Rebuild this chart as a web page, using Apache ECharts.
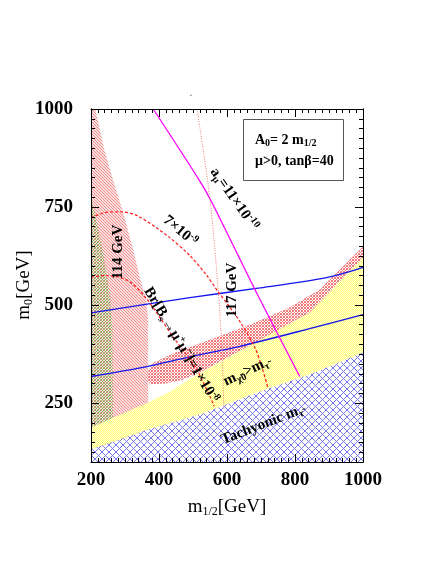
<!DOCTYPE html>
<html><head><meta charset="utf-8">
<script src="https://cdn.jsdelivr.net/npm/echarts@6/dist/echarts.min.js"></script>
<style>html,body{margin:0;padding:0;background:#fff}#c{width:436px;height:564px}</style>
</head><body><div id="c"></div><script>
// ---- data (m1/2 [GeV], m0 [GeV]) ----
const xTicks = [200, 400, 600, 800, 1000];
const yTickLabels = [250, 500, 750, 1000];
const higgs114Region = [[200,1000],[213,1000],[239,896],[265,819],[295,735],[324,641],[345,565],[362,514],[368,463],[368,183],[200,132]];
const bsgRegion = [[200,780],[215,720],[236,630],[255,530],[263,440],[265,150],[200,132]];
const stauLspTop = [[200,188],[368,252],[433,280],[491,312],[667,397],[843,481],[931,560],[1000,621]];
const tachyonTop = [[200,132],[368,183],[521,221],[697,280],[843,323],[1000,379]];
const relicUpper = [[368,330],[380,352],[448,379],[550,412],[667,450],[784,494],[873,540],[946,603],[1000,649]];
const relicLower = [[1000,621],[931,560],[843,481],[667,397],[520,328],[470,310],[420,300],[375,298],[368,305]];
const gm2Upper = [[200,480],[491,519],[697,544],[893,570],[1000,596]];
const gm2Lower = [[200,318],[345,340],[491,368],[638,395],[843,440],[1000,476]];
const amu11 = [[383,1000],[521,815],[556,761],[682,540],[814,318]];
const higgs117 = [[512,1000],[550,769],[574,540],[585,387],[591,234]];
const bs7e9 = [[200,723],[242,736],[286,738],[336,728],[424,677],[491,626],[541,575],[574,534],[603,501],[638,458],[682,392],[703,341],[720,290]];
const bs1e8 = [[200,572],[242,575],[280,572],[315,559],[359,521],[403,468],[447,412],[506,343],[550,267],[562,242]];

// ---- hatch patterns ----
function pattern(size, fn) {
  const c = document.createElement('canvas'); c.width = size; c.height = size;
  const ctx = c.getContext('2d'); const img = ctx.createImageData(size, size);
  for (let y = 0; y < size; y++) for (let x = 0; x < size; x++) {
    const col = fn(x, y); if (!col) continue;
    const i = (y * size + x) * 4; img.data[i]=col[0]; img.data[i+1]=col[1]; img.data[i+2]=col[2]; img.data[i+3]=col[3];
  }
  ctx.putImageData(img, 0, 0); return {image: c, repeat: 'repeat'};
}
const pinkHatch = pattern(3, (x,y) => ((x - y + 30) % 3 === 0) ? [240,140,140,255] : [250,225,225,255]);
const redHatch = pattern(3, (x,y) => ((x - y + 30) % 3 === 0 || (x + y) % 3 === 0) ? [240,120,120,255] : null);
const greenHatch = pattern(3, (x,y) => ((x + y) % 3 === 0) ? [120,185,80,255] : null);
const yellowDots = pattern(2, (x,y) => ((x + y) % 2 === 0) ? [255,255,120,255] : [255,255,215,255]);
const blueHatch = pattern(7, (x,y) => ((x - y + 70) % 7 === 0 || (x + y) % 7 === 0) ? [120,120,238,255] : null);

function poly(name, pts, fill, z) {
  return { type: 'custom', name, silent: true, z, clip: true, data: [[pts[0][0], pts[0][1]]],
    renderItem: (params, api) => ({ type: 'polygon', shape: { points: pts.map(p => api.coord(p)) }, style: { fill: fill, stroke: null } }) };
}
function line(name, pts, color, width, type, smooth) {
  return { type: 'line', name, data: pts, showSymbol: false, smooth: smooth, silent: true, z: 5,
    lineStyle: { color, width, type }, clip: true };
}

const serif = 'Liberation Serif';
const axisCommon = {
  axisLine: { show: true, lineStyle: { color: '#000', width: 1 } },
  splitLine: { show: false }, z: 10
};
const chart = echarts.init(document.getElementById('c'), null, { renderer: 'canvas' });
const ann = {
  b: { fontFamily: serif, fontWeight: 'bold', fontSize: 15, lineHeight: 18, color: '#000' },
  sub: { fontFamily: serif, fontWeight: 'bold', fontSize: 10, lineHeight: 6, verticalAlign: 'bottom', color: '#000' },
  sup: { fontFamily: serif, fontWeight: 'bold', fontSize: 10, lineHeight: 6, verticalAlign: 'top', color: '#000' }
};
function txt(x, y, rot, text, rich) {
  return { type: 'text', x, y, rotation: rot, z: 100,
    style: { text, rich: rich || ann, align: 'center', verticalAlign: 'middle' } };
}
const legRich = {
  l: { fontFamily: serif, fontWeight: 'bold', fontSize: 14, lineHeight: 17, color: '#000' },
  ls: { fontFamily: serif, fontWeight: 'bold', fontSize: 10, lineHeight: 6, verticalAlign: 'bottom', color: '#000' }
};
const titleRich = {
  m: { fontFamily: serif, fontSize: 19, lineHeight: 22, color: '#000' },
  s: { fontFamily: serif, fontSize: 12, lineHeight: 6, verticalAlign: 'bottom', color: '#000' }
};

chart.setOption({
  animation: false,
  backgroundColor: '#fff',
  grid: { left: 91, right: 73, top: 109, bottom: 102, containLabel: false },
  xAxis: [
    Object.assign({ type: 'value', min: xTicks[0], max: xTicks[xTicks.length-1], interval: 200, position: 'bottom',
      axisTick: { inside: true, length: 8, lineStyle: { color: '#000' } },
      minorTick: { show: true, splitNumber: 10, length: 4, lineStyle: { color: '#000' } },
      axisLabel: { fontFamily: serif, fontWeight: 'bold', fontSize: 19, color: '#000', margin: 9, formatter: v => String(v) } }, axisCommon),
    Object.assign({ type: 'value', min: xTicks[0], max: xTicks[xTicks.length-1], interval: 200, position: 'top',
      axisTick: { inside: true, length: 8, lineStyle: { color: '#000' } },
      minorTick: { show: true, splitNumber: 10, length: 4, lineStyle: { color: '#000' } },
      axisLabel: { show: false } }, axisCommon)
  ],
  yAxis: [
    Object.assign({ type: 'value', min: 100, max: 1000, interval: 25, position: 'left',
      axisTick: { inside: true, length: 4, lineStyle: { color: '#000' } },
      axisLabel: { fontFamily: serif, fontWeight: 'bold', fontSize: 19, color: '#000', margin: 18,
        formatter: v => (yTickLabels.indexOf(v) >= 0 ? String(v) : '') } }, axisCommon),
    Object.assign({ type: 'value', min: 100, max: 1000, interval: 25, position: 'left',
      axisTick: { inside: true, length: 8, customValues: yTickLabels, lineStyle: { color: '#000' } },
      axisLabel: { show: false } }, axisCommon),
    Object.assign({ type: 'value', min: 100, max: 1000, interval: 25, position: 'right',
      axisTick: { inside: true, length: 4, lineStyle: { color: '#000' } },
      axisLabel: { show: false } }, axisCommon),
    Object.assign({ type: 'value', min: 100, max: 1000, interval: 25, position: 'right',
      axisTick: { inside: true, length: 8, customValues: yTickLabels, lineStyle: { color: '#000' } },
      axisLabel: { show: false } }, axisCommon)
  ],
  series: [
    poly('114 GeV', higgs114Region, pinkHatch, 1),
    poly('bsg', bsgRegion, greenHatch, 2),
    poly('stau LSP', stauLspTop.concat(tachyonTop.slice().reverse()), yellowDots, 3),
    poly('relic', relicUpper.concat(relicLower), redHatch, 4),
    poly('tachyonic', tachyonTop.concat([[1000,100],[200,100]]), blueHatch, 4),
    line('gm2 upper', gm2Upper, '#1414ee', 1.3, 'solid', 0.3),
    line('gm2 lower', gm2Lower, '#1414ee', 1.3, 'solid', 0.3),
    line('amu', amu11, '#ff00ff', 1.3, 'solid', 0.3),
    line('117 GeV', higgs117, '#f07878', 1, [1, 1.5], 0.3),
    line('Bs 7e-9', bs7e9, '#ff1a1a', 1.2, [3, 2], 0.3),
    line('Bs 1e-8', bs1e8, '#ff1a1a', 1.2, [3, 2], 0.3)
  ],
  graphic: [
    { type: 'rect', shape: { x: 243.5, y: 119.5, width: 100, height: 61 }, style: { fill: '#fff', stroke: '#555', lineWidth: 1 }, z: 99 },
    { type: 'text', x: 255, y: 140, z: 100, style: { text: '{l|A}{ls|0}{l|= 2 m}{ls|1/2}', rich: legRich, align: 'left', verticalAlign: 'middle' } },
    { type: 'text', x: 255, y: 161, z: 100, style: { text: '{l|μ>0, tanβ=40}', rich: legRich, align: 'left', verticalAlign: 'middle' } },
    txt(24, 285, Math.PI / 2, '{m|m}{s|0}{m|[GeV]}', titleRich),
    txt(227, 507, 0, '{m|m}{s|1/2}{m|[GeV]}', titleRich),
    txt(118, 252, Math.PI / 2, '{b|114 GeV}'),
    txt(232, 290, Math.PI / 2, '{b|117 GeV}'),
    txt(180, 231, -0.70, '{b|7×10}{sup|-9}'),
    txt(234, 199, -0.96, '{b|a}{sub|μ}{b|=11×10}{sup|-10}'),
    txt(181, 345, -1.03, '{b|Br[B}{sub|s}{b|→μ}{sup|+}{b|μ}{sup|−}{b|]=1×10}{sup|-8}'),
    txt(246, 372, 0.44, '{b|m}{sub|χ̃0}{b|>m}{sub|τ̃}'),
    txt(262, 425, 0.37, '{b|Tachyonic m}{sub|τ̃}'),
    { type: 'text', x: 191, y: 93, z: 100, style: { text: '.', fontSize: 10, fill: '#444', align: 'center', verticalAlign: 'middle' } }
  ]
});
</script></body></html>
